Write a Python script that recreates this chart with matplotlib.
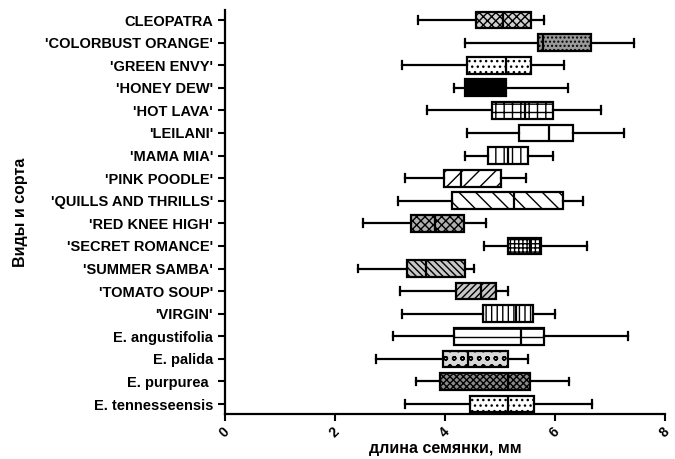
import matplotlib.pyplot as plt

names = ["CLEOPATRA", "'COLORBUST ORANGE'", "'GREEN ENVY'", "'HONEY DEW'",
         "'HOT LAVA'", "'LEILANI'", "'MAMA MIA'", "'PINK POODLE'",
         "'QUILLS AND THRILLS'", "'RED KNEE HIGH'", "'SECRET ROMANCE'",
         "'SUMMER SAMBA'", "'TOMATO SOUP'", "'VIRGIN'", "E. angustifolia",
         "E. palida", "E. purpurea ", "E. tennesseensis"]
whislo = [3.51, 4.36, 3.23, 4.16, 3.68, 4.41, 4.37, 3.27, 3.14, 2.52, 4.71,
          2.42, 3.18, 3.23, 3.06, 2.74, 3.48, 3.27]
q1 = [4.56, 5.69, 4.41, 4.37, 4.85, 5.35, 4.78, 3.98, 4.13, 3.38, 5.14,
      3.32, 4.20, 4.70, 4.16, 3.96, 3.92, 4.46]
med = [5.05, 5.78, 5.11, 4.75, 5.45, 5.89, 5.15, 4.29, 5.26, 3.83, 5.54,
       3.65, 4.66, 5.30, 5.39, 4.43, 5.15, 5.15]
q3 = [5.56, 6.65, 5.57, 5.11, 5.96, 6.33, 5.51, 5.03, 6.14, 4.35, 5.75,
      4.36, 4.93, 5.60, 5.80, 5.14, 5.54, 5.63]
whishi = [5.80, 7.43, 6.17, 6.24, 6.83, 7.26, 5.97, 5.48, 6.52, 4.75, 6.59,
          4.53, 5.15, 6.00, 7.33, 5.52, 6.26, 6.67]

# box fill / hatch per row
faces = ["#d0d0d0", "#9a9a9a", "white", "black", "white", "white", "white", "white",
         "white", "#b0b0b0", "white", "#c8c8c8", "#c8c8c8", "white", "white",
         "#d8d8d8", "#8a8a8a", "white"]
hatches = ["xxxx", "....", "...", None, "++", "-", "||", "//", "\\\\", "xxxx",
           "++++", "\\\\\\\\\\", "/////", "|||", "--", "oo", "xxxxx", "..."]

plt.rcParams['font.family'] = ['Liberation Sans', 'DejaVu Sans']
plt.rcParams['font.weight'] = 'bold'
plt.rcParams['hatch.linewidth'] = 1.0

stats = []
for i in range(len(names)):
    stats.append(dict(label=names[i], whislo=whislo[i], q1=q1[i], med=med[i],
                      q3=q3[i], whishi=whishi[i], fliers=[]))

fig = plt.figure(figsize=(6.75, 4.59), dpi=100)
ax = fig.add_axes([0.333, 0.098, 0.652, 0.88])

pos = list(range(len(names), 0, -1))
bp = ax.bxp(stats, positions=pos, vert=False, widths=0.74, patch_artist=True,
            showfliers=False,
            boxprops=dict(linewidth=1.6, edgecolor='black'),
            medianprops=dict(color='black', linewidth=1.6),
            whiskerprops=dict(linewidth=1.6),
            capprops=dict(linewidth=1.6),
            capwidths=0.35)
for box, fc, h in zip(bp['boxes'], faces, hatches):
    box.set_facecolor(fc)
    if h:
        box.set_hatch(h)

ax.set_xlim(0, 8)
ax.set_ylim(0.56, len(names) + 0.44)
ax.set_xticks([0, 2, 4, 6, 8])
ax.set_xticklabels(['0', '2', '4', '6', '8'], rotation=45, fontsize=10,
                   fontweight='bold')
ax.set_yticks(pos)
ax.set_yticklabels(names, fontsize=10.5, fontweight='bold')
for s in ['top', 'right']:
    ax.spines[s].set_visible(False)
for s in ['left', 'bottom']:
    ax.spines[s].set_linewidth(1.6)
ax.tick_params(axis='both', length=5, width=1.5)
ax.tick_params(axis='x', pad=3)
ax.set_xlabel("длина семянки, мм", fontsize=11.5, fontweight='bold', labelpad=0)
ax.set_ylabel("Виды и сорта", fontsize=11.5, fontweight='bold', labelpad=12)

plt.savefig("out.png", dpi=100)
